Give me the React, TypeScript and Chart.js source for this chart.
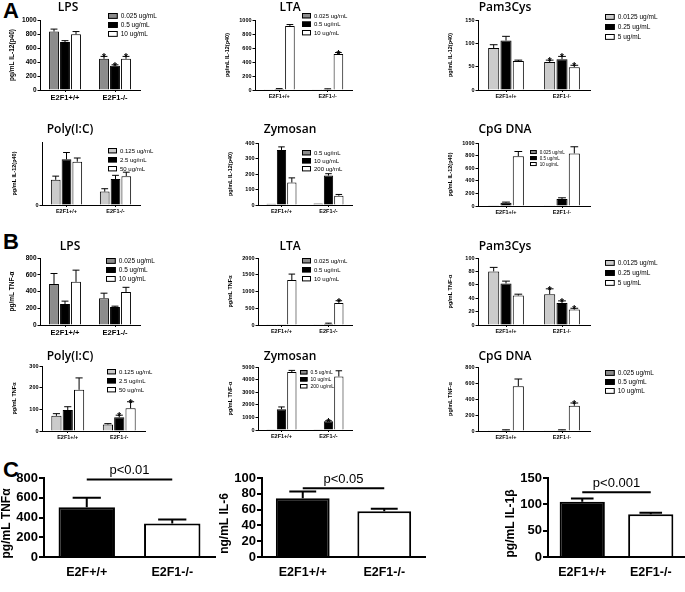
import React, { useEffect, useRef } from "react";
import { Chart, registerables } from "chart.js";
Chart.register(...registerables);

// ---------- categories / labels ----------
const GROUPS = ["E2F1+/+", "E2F1-/-"];
const GROUPS_C1 = ["E2F+/+", "E2F1-/-"];
const DOSES_STD = ["0.025 ug/mL", "0.5 ug/mL", "10 ug/mL"];
const DOSES_PAM = ["0.0125 ug/mL", "0.25 ug/mL", "5 ug/mL"];
const DOSES_POLY = ["0.125 ug/mL", "2.5 ug/mL", "50 ug/mL"];
const DOSES_ZYM = ["0.5 ug/mL", "10 ug/mL", "200 ug/mL"];

// ---------- A: IL-12(p40) ----------
const A_LPS_MEAN = [[835, 445], [685, 345], [795, 445]];
const A_LPS_ERR = [[35, 35], [20, 15], [40, 35]];
const A_LPS_SIG = [[0, 1], [0, 1], [0, 1]];

const A_LTA_MEAN = [[3, 3], [15, 12], [915, 515]];
const A_LTA_ERR = [[0, 0], [5, 5], [20, 20]];
const A_LTA_SIG = [[0, 0], [0, 0], [0, 1]];

const A_PAM_MEAN = [[90, 60], [106, 66], [62, 49]];
const A_PAM_ERR = [[7, 4], [9, 6], [2, 4]];
const A_PAM_SIG = [[0, 1], [0, 1], [0, 1]];

const A_POLY_MEAN = [[480, 255], [870, 495], [825, 550]];
const A_POLY_ERR = [[70, 55], [130, 70], [70, 75]];
const A_POLY_SIG = [[0, 0], [0, 0], [0, 0]];

const A_ZYM_MEAN = [[8, 10], [355, 190], [145, 60]];
const A_ZYM_ERR = [[0, 0], [20, 12], [30, 8]];
const A_ZYM_SIG = [[0, 0], [0, 0], [0, 0]];

const A_CPG_MEAN = [[5, 3], [50, 110], [790, 835]];
const A_CPG_ERR = [[0, 0], [12, 20], [75, 105]];
const A_CPG_SIG = [[0, 0], [0, 0], [0, 0]];

// ---------- B: TNF-alpha ----------
const B_LPS_MEAN = [[490, 320], [250, 215], [515, 395]];
const B_LPS_ERR = [[125, 60], [35, 10], [140, 55]];
const B_LPS_SIG = [[0, 0], [0, 0], [0, 0]];

const B_LTA_MEAN = [[5, 5], [5, 40], [1340, 660]];
const B_LTA_ERR = [[0, 0], [0, 15], [180, 65]];
const B_LTA_SIG = [[0, 0], [0, 0], [0, 1]];

const B_PAM_MEAN = [[80, 46], [62, 33], [44, 23]];
const B_PAM_ERR = [[6, 8], [3.5, 3], [2, 2]];
const B_PAM_SIG = [[0, 1], [0, 1], [0, 1]];

const B_POLY_MEAN = [[70, 30], [97, 63], [190, 105]];
const B_POLY_ERR = [[10, 4], [15, 10], [55, 30]];
const B_POLY_SIG = [[0, 0], [0, 1], [0, 1]];

const B_ZYM_MEAN = [[20, 20], [1650, 700], [4600, 4250]];
const B_ZYM_ERR = [[0, 0], [180, 40], [130, 450]];
const B_ZYM_SIG = [[0, 0], [0, 1], [0, 0]];

const B_CPG_MEAN = [[3, 3], [10, 10], [560, 315]];
const B_CPG_ERR = [[0, 0], [5, 5], [90, 35]];
const B_CPG_SIG = [[0, 0], [0, 0], [0, 1]];

// ---------- C ----------
const C_TNF_MEAN = [[505, 340]];
const C_TNF_ERR = [[95, 40]];
const C_IL6_MEAN = [[74.5, 58]];
const C_IL6_ERR = [[8.5, 3]];
const C_IL1_MEAN = [[105, 81]];
const C_IL1_ERR = [[6, 3]];
const C_P_LABELS = ["p<0.01", "p<0.05", "p<0.001"];
const C_P_LEVEL = [785, 87, 123];

// ---------- styles ----------
const GRAY = "#8c8c8c";
const LIGHT = "#cbcbcb";
const TRIO_GRAY = [GRAY, "#000000", "#ffffff"];
const TRIO_LIGHT = [LIGHT, "#000000", "#ffffff"];
const DUO = ["#000000", "#ffffff"];

type Spec = {
  id: string; title: string; ylabel: string; groups: string[]; doses: string[];
  mean: number[][]; err: number[][]; sig: number[][]; colors: string[];
  yMax: number; yStep: number; c?: boolean; pLabel?: string; pLevel?: number;
};

const IL12 = "pg/mL IL-12(p40)";
const PANELS: Spec[] = [
  { id: "aLps", title: "LPS", ylabel: IL12, groups: GROUPS, doses: DOSES_STD, mean: A_LPS_MEAN, err: A_LPS_ERR, sig: A_LPS_SIG, colors: TRIO_GRAY, yMax: 1000, yStep: 200 },
  { id: "aLta", title: "LTA", ylabel: IL12, groups: GROUPS, doses: DOSES_STD, mean: A_LTA_MEAN, err: A_LTA_ERR, sig: A_LTA_SIG, colors: TRIO_GRAY, yMax: 1000, yStep: 200 },
  { id: "aPam", title: "Pam3Cys", ylabel: IL12, groups: GROUPS, doses: DOSES_PAM, mean: A_PAM_MEAN, err: A_PAM_ERR, sig: A_PAM_SIG, colors: TRIO_LIGHT, yMax: 150, yStep: 50 },
  { id: "aPoly", title: "Poly(I:C)", ylabel: IL12, groups: GROUPS, doses: DOSES_POLY, mean: A_POLY_MEAN, err: A_POLY_ERR, sig: A_POLY_SIG, colors: TRIO_LIGHT, yMax: 1200, yStep: 500 },
  { id: "aZym", title: "Zymosan", ylabel: IL12, groups: GROUPS, doses: DOSES_ZYM, mean: A_ZYM_MEAN, err: A_ZYM_ERR, sig: A_ZYM_SIG, colors: TRIO_GRAY, yMax: 400, yStep: 100 },
  { id: "aCpg", title: "CpG DNA", ylabel: IL12, groups: GROUPS, doses: DOSES_STD, mean: A_CPG_MEAN, err: A_CPG_ERR, sig: A_CPG_SIG, colors: TRIO_GRAY, yMax: 1000, yStep: 200 },
  { id: "bLps", title: "LPS", ylabel: "pg/mL TNF-α", groups: GROUPS, doses: DOSES_STD, mean: B_LPS_MEAN, err: B_LPS_ERR, sig: B_LPS_SIG, colors: TRIO_GRAY, yMax: 800, yStep: 200 },
  { id: "bLta", title: "LTA", ylabel: "pg/mL TNFα", groups: GROUPS, doses: DOSES_STD, mean: B_LTA_MEAN, err: B_LTA_ERR, sig: B_LTA_SIG, colors: TRIO_GRAY, yMax: 2000, yStep: 500 },
  { id: "bPam", title: "Pam3Cys", ylabel: "pg/mL TNF-α", groups: GROUPS, doses: DOSES_PAM, mean: B_PAM_MEAN, err: B_PAM_ERR, sig: B_PAM_SIG, colors: TRIO_LIGHT, yMax: 100, yStep: 20 },
  { id: "bPoly", title: "Poly(I:C)", ylabel: "pg/mL TNFα", groups: GROUPS, doses: DOSES_POLY, mean: B_POLY_MEAN, err: B_POLY_ERR, sig: B_POLY_SIG, colors: TRIO_LIGHT, yMax: 300, yStep: 100 },
  { id: "bZym", title: "Zymosan", ylabel: "pg/mL TNF-α", groups: GROUPS, doses: DOSES_ZYM, mean: B_ZYM_MEAN, err: B_ZYM_ERR, sig: B_ZYM_SIG, colors: TRIO_GRAY, yMax: 5000, yStep: 1000 },
  { id: "bCpg", title: "CpG DNA", ylabel: "pg/mL TNF-α", groups: GROUPS, doses: DOSES_STD, mean: B_CPG_MEAN, err: B_CPG_ERR, sig: B_CPG_SIG, colors: TRIO_GRAY, yMax: 800, yStep: 200 },
  { id: "cTnf", title: "", ylabel: "pg/mL TNFα", groups: GROUPS_C1, doses: [], mean: C_TNF_MEAN, err: C_TNF_ERR, sig: [[0, 0]], colors: DUO, yMax: 800, yStep: 200, c: true, pLabel: C_P_LABELS[0], pLevel: C_P_LEVEL[0] },
  { id: "cIl6", title: "", ylabel: "ng/mL IL-6", groups: GROUPS, doses: [], mean: C_IL6_MEAN, err: C_IL6_ERR, sig: [[0, 0]], colors: DUO, yMax: 100, yStep: 20, c: true, pLabel: C_P_LABELS[1], pLevel: C_P_LEVEL[1] },
  { id: "cIl1", title: "", ylabel: "pg/mL IL-1β", groups: GROUPS, doses: [], mean: C_IL1_MEAN, err: C_IL1_ERR, sig: [[0, 0]], colors: DUO, yMax: 150, yStep: 50, c: true, pLabel: C_P_LABELS[2], pLevel: C_P_LEVEL[2] },
];

// ---------- layout (page pixels) ----------
type Lay = { L: number; T: number; R: number; B: number; tx: number; ty: number; lx: number; ly: number; ls: number; lf: number; big?: boolean };
const LAYOUT: Record<string, Lay> = {
  aLps: { L: 40, T: 20, R: 140, B: 90, tx: 68, ty: 8, lx: 108, ly: 13, ls: 9, lf: 6.5, big: true },
  aLta: { L: 255, T: 20, R: 352, B: 90, tx: 290, ty: 8, lx: 302, ly: 13, ls: 8.5, lf: 6 },
  aPam: { L: 478, T: 20, R: 590, B: 90, tx: 505, ty: 8, lx: 605, ly: 14, ls: 10, lf: 6.5 },
  aPoly: { L: 42, T: 142, R: 140, B: 205, tx: 70, ty: 130, lx: 108, ly: 148, ls: 9, lf: 6 },
  aZym: { L: 258, T: 143, R: 352, B: 205, tx: 290, ty: 130, lx: 302, ly: 150, ls: 8, lf: 6 },
  aCpg: { L: 478, T: 143, R: 590, B: 206, tx: 505, ty: 130, lx: 530, ly: 150, ls: 6, lf: 4.5 },
  bLps: { L: 40, T: 258, R: 140, B: 325, tx: 70, ty: 247, lx: 106, ly: 258, ls: 9, lf: 6.5, big: true },
  bLta: { L: 258, T: 258, R: 352, B: 325, tx: 290, ty: 247, lx: 302, ly: 258, ls: 9, lf: 6 },
  bPam: { L: 478, T: 258, R: 590, B: 325, tx: 505, ty: 247, lx: 605, ly: 260, ls: 10, lf: 6.5 },
  bPoly: { L: 42, T: 366, R: 145, B: 431, tx: 70, ty: 357, lx: 107, ly: 369, ls: 9, lf: 6 },
  bZym: { L: 258, T: 367, R: 352, B: 430, tx: 290, ty: 357, lx: 300, ly: 370, ls: 7, lf: 5 },
  bCpg: { L: 478, T: 367, R: 590, B: 431, tx: 505, ty: 357, lx: 605, ly: 370, ls: 9, lf: 6.5 },
  cTnf: { L: 44, T: 478, R: 215, B: 557, tx: 0, ty: 0, lx: 0, ly: 0, ls: 0, lf: 0 },
  cIl6: { L: 262, T: 478, R: 425, B: 557, tx: 0, ty: 0, lx: 0, ly: 0, ls: 0, lf: 0 },
  cIl1: { L: 548, T: 478, R: 685, B: 557, tx: 0, ty: 0, lx: 0, ly: 0, ls: 0, lf: 0 },
};

const SANS = '"Liberation Sans", Arial, sans-serif';
const TITLE_FONT = '600 12px "Open Sans", sans-serif';

function measureLegendWidth(p: Spec, lay: Lay) {
  const longest = p.doses.reduce((m, d) => Math.max(m, d.length), 0);
  return lay.lf * 0.55 * longest + 16;
}

function PanelChart({ p }: { p: Spec }) {
  const ref = useRef<HTMLCanvasElement | null>(null);
  const lay = LAYOUT[p.id];
  const isC = !!p.c;
  const x0 = Math.max(0, lay.L - (isC ? 44 : 40));
  const y0 = isC ? lay.T - 30 : lay.ty - 9;
  const x1 = isC ? Math.min(685, lay.R + 2) : Math.min(685, Math.max(lay.R + 4, lay.lx + measureLegendWidth(p, lay)));
  const y1 = isC ? lay.B + 28 : lay.B + 14;
  const cw = Math.round(x1 - x0);
  const ch = Math.round(y1 - y0);

  useEffect(() => {
    const canvas = ref.current;
    if (!canvas) return;
    const yw = lay.L - x0;
    const padTop = lay.T - y0;
    const padRight = cw - (lay.R - x0);
    const xh = y1 - lay.B;
    const tickSize = isC ? 13 : lay.big ? 6.5 : 5.5;
    const xSize = isC ? 12.5 : lay.big ? 7.5 : 5.5;
    const lw = isC ? 2 : 1;

    const overlay = {
      id: "overlay_" + p.id,
      afterDatasetsDraw(chart: any) {
        const ctx = chart.ctx;
        const ys = chart.scales.y;
        ctx.save();
        ctx.strokeStyle = "#000";
        ctx.fillStyle = "#000";
        p.mean.forEach((series, i) => {
          const meta = chart.getDatasetMeta(i);
          series.forEach((v, j) => {
            const bar: any = meta.data[j];
            const e = p.err[i][j];
            const yTop = ys.getPixelForValue(v + e);
            const cap = bar.width * (isC ? 0.5 : 0.7);
            ctx.lineWidth = isC ? 2 : 1;
            if (e > 0) {
              ctx.beginPath();
              ctx.moveTo(bar.x, bar.y);
              ctx.lineTo(bar.x, yTop);
              ctx.moveTo(bar.x - cap / 2, yTop);
              ctx.lineTo(bar.x + cap / 2, yTop);
              ctx.stroke();
            }
            if (p.sig[i] && p.sig[i][j]) {
              ctx.font = `bold 10px ${SANS}`;
              ctx.textAlign = "center";
              ctx.textBaseline = "alphabetic";
              ctx.fillText("*", bar.x, yTop + 5);
            }
          });
        });
        ctx.restore();
      },
      afterDraw(chart: any) {
        const ctx = chart.ctx;
        const ca = chart.chartArea;
        ctx.save();
        ctx.fillStyle = "#000";
        ctx.strokeStyle = "#000";
        // y label
        ctx.save();
        ctx.translate(isC ? ca.left - 37 : ca.left - 28, (ca.top + ca.bottom) / 2 + (isC ? 6 : 0));
        ctx.rotate(-Math.PI / 2);
        ctx.textAlign = "center";
        ctx.textBaseline = "middle";
        ctx.font = isC ? `bold 12px ${SANS}` : `bold ${lay.big ? 6.5 : 5.5}px ${SANS}`;
        ctx.fillText(p.ylabel, 0, 0);
        ctx.restore();
        if (!isC) {
          // title
          ctx.font = TITLE_FONT;
          ctx.textAlign = "center";
          ctx.textBaseline = "middle";
          ctx.fillText(p.title, lay.tx - x0, lay.ty - y0);
          // legend
          const bw = lay.lf * 1.5;
          const bh = lay.lf * 0.9;
          ctx.font = `${lay.lf}px ${SANS}`;
          ctx.textAlign = "left";
          p.doses.forEach((d, i) => {
            const lx = lay.lx - x0;
            const ly = lay.ly - y0 + i * lay.ls;
            ctx.fillStyle = p.colors[i];
            ctx.fillRect(lx, ly, bw, bh);
            ctx.lineWidth = 1;
            ctx.strokeRect(lx + 0.5, ly + 0.5, bw - 1, bh - 1);
            ctx.fillStyle = "#000";
            ctx.fillText(d, lx + bw + 3, ly + bh / 2 + 0.5);
          });
        } else {
          const meta = chart.getDatasetMeta(0);
          const b0: any = meta.data[0];
          const b1: any = meta.data[1];
          const yl = chart.scales.y.getPixelForValue(p.pLevel);
          ctx.lineWidth = 2;
          ctx.beginPath();
          ctx.moveTo(b0.x, yl);
          ctx.lineTo(b1.x, yl);
          ctx.stroke();
          ctx.font = `13px ${SANS}`;
          ctx.textAlign = "center";
          ctx.textBaseline = "alphabetic";
          ctx.fillText(p.pLabel, (b0.x + b1.x) / 2, yl - 5);
        }
        ctx.restore();
      },
    };

    const datasets = isC
      ? [{ data: p.mean[0], backgroundColor: p.colors, borderColor: "#000", borderWidth: 2, categoryPercentage: 0.66, barPercentage: 1.0 }]
      : p.mean.map((m, i) => ({ label: p.doses[i], data: m, backgroundColor: p.colors[i], borderColor: "#000", borderWidth: 1, categoryPercentage: 0.66, barPercentage: 0.9 }));

    const chart = new Chart(canvas, {
      type: "bar",
      data: { labels: p.groups, datasets },
      options: {
        responsive: false,
        maintainAspectRatio: false,
        animation: false,
        events: [],
        layout: { padding: { top: padTop, right: padRight, left: 0, bottom: 0 } },
        plugins: { legend: { display: false }, title: { display: false }, tooltip: { enabled: false } },
        scales: {
          x: {
            type: "category",
            offset: true,
            grid: { display: !isC, drawOnChartArea: false, drawTicks: true, tickLength: 2, offset: false, color: "#000" },
            border: { display: true, color: "#000", width: lw },
            ticks: { color: "#000", font: { family: SANS, size: xSize, weight: "bold" }, padding: isC ? 6 : 1, autoSkip: false, maxRotation: 0 },
            afterFit: (s: any) => { s.height = xh; },
          },
          y: {
            min: 0,
            max: p.yMax,
            grid: { display: true, drawOnChartArea: false, drawTicks: true, tickLength: isC ? 5 : 2.5, color: "#000", lineWidth: lw },
            border: { display: true, color: "#000", width: lw },
            ticks: {
              stepSize: p.yStep, color: "#000", autoSkip: false, autoSkipPadding: 0,
              font: { family: SANS, size: tickSize, weight: "bold", lineHeight: 1 }, padding: 1,
              callback: (v: any) => String(v),
            },
            afterBuildTicks: (s: any) => { s.ticks = s.ticks.filter((t: any) => Math.abs(t.value / p.yStep - Math.round(t.value / p.yStep)) < 1e-6); },
            afterFit: (s: any) => { s.width = yw; },
          },
        },
      } as any,
      plugins: [overlay],
    });
    return () => chart.destroy();
  }, []);

  return (
    <canvas
      ref={ref}
      width={cw}
      height={ch}
      style={{ position: "absolute", left: x0, top: y0, width: cw, height: ch }}
    />
  );
}

const LETTER: React.CSSProperties = { position: "absolute", font: `bold 22px ${SANS}`, color: "#000", lineHeight: "22px" };

export default function App() {
  return (
    <div style={{ position: "fixed", left: 0, top: 0, width: 685, height: 592, background: "#fff", overflow: "hidden" }}>
      <div style={{ ...LETTER, left: 3, top: 0 }}>A</div>
      <div style={{ ...LETTER, left: 3, top: 231 }}>B</div>
      <div style={{ ...LETTER, left: 3, top: 459 }}>C</div>
      {PANELS.map((p) => (
        <PanelChart key={p.id} p={p} />
      ))}
    </div>
  );
}
